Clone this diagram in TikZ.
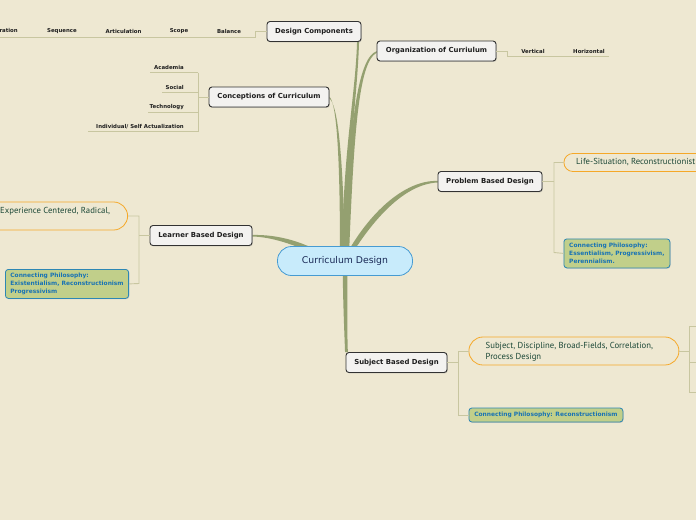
\documentclass[tikz,border=0pt]{standalone}
\usepackage{fontspec}
\setmainfont{DejaVu Sans}
\newfontfamily\ptsans{PT Sans}
\usetikzlibrary{calc,shadows}
\definecolor{bg}{RGB}{238,232,210}
\definecolor{boxfill}{RGB}{243,242,240}
\definecolor{boxline}{RGB}{50,50,50}
\definecolor{txtdark}{RGB}{30,30,30}
\definecolor{trunk}{RGB}{148,160,112}
\definecolor{leafc}{RGB}{200,198,160}
\definecolor{cfill}{RGB}{200,235,251}
\definecolor{cline}{RGB}{70,155,210}
\definecolor{ctext}{RGB}{25,40,85}
\definecolor{orangec}{RGB}{245,168,40}
\definecolor{pilltxt}{RGB}{28,72,55}
\definecolor{gfill}{RGB}{193,207,138}
\definecolor{gline}{RGB}{45,135,180}
\definecolor{gtext}{RGB}{25,115,180}
\pgfdeclarelayer{back}
\pgfsetlayers{back,main}
\tikzset{
  mainbox/.style={draw=boxline, fill=boxfill, rounded corners=3pt, line width=0.9pt,
    font=\fontsize{6.9}{8}\selectfont\bfseries, text=txtdark, minimum height=20pt,
    inner xsep=2pt, drop shadow={shadow xshift=0.8pt, shadow yshift=-0.9pt, opacity=0.35}},
  centerbox/.style={draw=cline, fill=cfill, rounded corners=14pt, line width=0.8pt,
    font=\fontsize{9.3}{10}\selectfont, text=ctext, minimum height=29pt, minimum width=135pt},
  leaf/.style={font=\fontsize{5.4}{6}\selectfont\bfseries, text=txtdark, inner sep=0pt},
  leafline/.style={draw=leafc, line width=0.9pt},
  pill/.style={draw=orangec, fill=bg, line width=0.8pt},
  pilltext/.style={font=\ptsans\fontsize{8.7}{11}\selectfont, text=pilltxt, inner sep=0pt, align=left},
  gbox/.style={draw=gline, fill=gfill, rounded corners=3pt, line width=0.8pt,
    font=\fontsize{5.9}{8}\selectfont\bfseries, text=gtext, align=left,
    inner ysep=2pt, drop shadow={shadow xshift=0.6pt, shadow yshift=-0.8pt, opacity=0.3}},
  trunkfill/.style={fill=trunk}
}
\begin{document}
\begin{tikzpicture}[x=1pt,y=-1pt]
\useasboundingbox (0,0) rectangle (696,520);
\begin{pgfonlayer}{back}
\fill[bg] (0,0) rectangle (696,520);
\end{pgfonlayer}
\begin{scope}
\clip (0,0) rectangle (696,520);
% main nodes
\node[centerbox] (cd) at (345,261) {Curriculum Design};
\node[mainbox, minimum width=94pt] (dc) at (314,31.5) {Design Components};
\node[mainbox, minimum width=119pt] (oc) at (436.5,51) {Organization of Curriulum};
\node[mainbox, minimum width=120pt] (cc) at (269,97) {Conceptions of Curriculum};
\node[mainbox, minimum width=104pt] (pb) at (490,181.5) {Problem Based Design};
\node[mainbox, minimum width=102pt] (lb) at (201,235.5) {Learner Based Design};
\node[mainbox, minimum width=101pt] (sb) at (396.5,362.5) {Subject Based Design};

% Design components leaves
\node[leaf, anchor=east] (dInt) at (18,31.5) {Integration};
\node[leaf] (dSeq) at (62,31.5) {Sequence};
\node[leaf] (dArt) at (123.5,31.5) {Articulation};
\node[leaf] (dSco) at (179,31.5) {Scope};
\node[leaf] (dBal) at (229,31.5) {Balance};
\coordinate (dEnd) at (-2,37.5);
\draw[leafline] (dc.west) -- (255,31.5) -- (255,37.5) -- (dEnd);

% Organization leaves
\node[leaf] (oVer) at (533,51) {Vertical};
\node[leaf] (oHor) at (589,51) {Horizontal};
\coordinate (oEnd) at (609,56.5);
\draw[leafline] (oc.east) -- (507,51) -- (507,56.5) -- (oEnd);

% Conceptions leaves
\node[leaf, anchor=east] (cAca) at (184,67.5) {Academia};
\node[leaf, anchor=east] (cSoc) at (184,87.5) {Social};
\node[leaf, anchor=east] (cTec) at (184,106.7) {Technology};
\node[leaf, anchor=east] (cInd) at (184,126.5) {Individual/ Self Actualization};
\draw[leafline] (cc.west) -- (198,97);
\draw[leafline] (198,72.5) -- (198,131.5);
\draw[leafline] (150,72.5) -- (198,72.5);
\draw[leafline] (162,92.5) -- (198,92.5);
\draw[leafline] (148,112) -- (198,112);
\draw[leafline] (88,131.5) -- (198,131.5);

% Problem based leaves
\node[pill, rounded corners=9pt, minimum width=150pt, minimum height=18pt, anchor=west] (pLife) at (563.5,162.5) {};
\node[pilltext, anchor=west] (pLifeT) at (576,162.5) {Life-Situation, Reconstructionist};
\node[gbox, anchor=north west, minimum width=106pt, minimum height=29pt, inner xsep=5pt] (pPhil) at (563.5,238.5)
  {Connecting Philosophy:\\Essentialism, Progressivism,\\Perennialism.};
\draw[leafline] (pb.east) -- (554,181.5);
\draw[leafline] (pLife.west) -- (554,162.5) -- (554,252.5) -- (pPhil.west);

% Learner based leaves
\node[pill, rounded corners=14pt, minimum width=180pt, minimum height=28pt, anchor=east] (lExp) at (128,216) {};
\node[pilltext, anchor=west] (lExpT) at (0,211.5) {Experience Centered, Radical,};
\node[gbox, anchor=north west, minimum width=123pt, minimum height=29pt, inner xsep=5pt] (lPhil) at (5,269)
  {Connecting Philosophy:\\Existentialism, Reconstructionism\\Progressivism};
\draw[leafline] (lb.west) -- (139,235.5);
\draw[leafline] (lExp.east) -- (139,216) -- (139,283.5) -- (lPhil.east);

% Subject based leaves
\node[pill, rounded corners=14pt, minimum width=210pt, minimum height=28pt, anchor=west] (sSub) at (468.5,351) {};
\node[pilltext, anchor=west] (sSubT) at (485.5,351.5) {Subject, Discipline, Broad-Fields, Correlation,\\Process Design};
\node[gbox, anchor=west, minimum width=154pt, minimum height=14pt, inner xsep=4pt, inner ysep=1pt] (sPhil) at (468.5,415)
  {Connecting Philosophy: Reconstructionism};
\draw[leafline] (sb.east) -- (458,362.5);
\draw[leafline] (sSub.west) -- (458,351) -- (458,415) -- (sPhil.west);
\coordinate (sA) at (700,326);
\coordinate (sB) at (700,362);
\coordinate (sC) at (700,392);
\draw[leafline] (sSub.east) -- (689,351);
\draw[leafline] (689,326) -- (689,392);
\draw[leafline] (689,326) -- (sA);
\draw[leafline] (689,362) -- (sB);
\draw[leafline] (689,392) -- (sC);
\end{scope}

% tapered main connectors
\begin{pgfonlayer}{back}
% to Design Components
\fill[trunkfill] ($(cd.center)+(-3,-6)$) .. controls (343,150) and (355.5,95) .. ($(dc.south east)+(-4.4,0)$)
  -- ($(dc.south east)+(-2.4,0)$) .. controls (357.5,95) and (348,150) .. ($(cd.center)+(2,-6)$) -- cycle;
% to Organization
\fill[trunkfill] ($(cd.center)+(-1,-6)$) .. controls (349,130) and (357,58) .. ($(oc.west)+(0,0.2)$)
  -- ($(oc.west)+(0,1.8)$) .. controls (359,62) and (354,130) .. ($(cd.center)+(4,-6)$) -- cycle;
% to Conceptions
\fill[trunkfill] ($(cd.center)+(-5,-6)$) .. controls (340,160) and (337,104) .. ($(cc.east)+(0,-0.3)$)
  -- ($(cc.east)+(0,1.5)$) .. controls (338.5,106) and (343,160) .. ($(cd.center)+(0,-6)$) -- cycle;
% to Problem Based
\fill[trunkfill] ($(cd.center)+(0,-4)$) .. controls (368,214) and (404,180) .. ($(pb.west)+(0,-0.6)$)
  -- ($(pb.west)+(0,1.0)$) .. controls (405,184) and (374,218) .. ($(cd.center)+(5,-4)$) -- cycle;
% to Learner Based
\fill[trunkfill] ($(cd.center)+(-25,-9)$) .. controls (295,238) and (270,234.5) .. ($(lb.east)+(0,-0.5)$)
  -- ($(lb.east)+(0,1.0)$) .. controls (270,237) and (292,243) .. ($(cd.center)+(-22,-3)$) -- cycle;
% to Subject Based
\fill[trunkfill] ($(cd.center)+(-2.3,0)$) .. controls (342.8,300) and (344.3,330) .. ($(sb.north west)+(-0.5,0)$)
  -- ($(sb.north west)+(2.3,0)$) .. controls (347,330) and (347.3,300) .. ($(cd.center)+(2.3,0)$) -- cycle;
\end{pgfonlayer}
\end{tikzpicture}
\end{document}
